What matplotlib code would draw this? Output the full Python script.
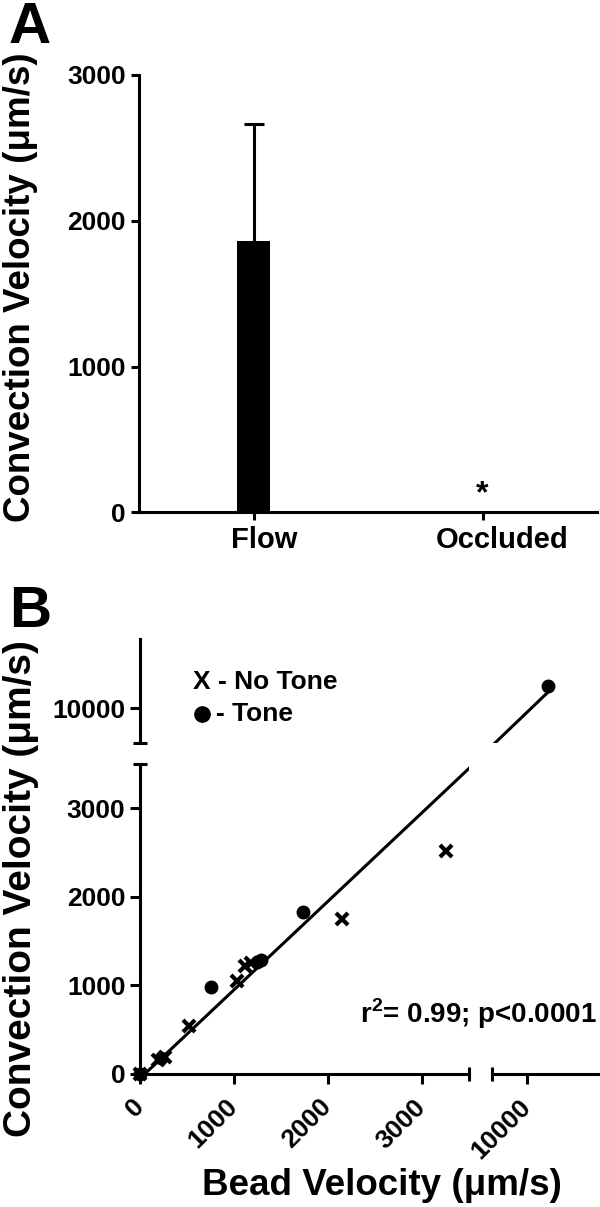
import numpy as np
import matplotlib
matplotlib.use('Agg')
import matplotlib.pyplot as plt
import matplotlib.transforms as mtransforms

plt.rcParams['font.family'] = ['Liberation Sans', 'DejaVu Sans']
plt.rcParams['font.weight'] = 'bold'
plt.rcParams['mathtext.fontset'] = 'custom'
plt.rcParams['mathtext.rm'] = 'Liberation Sans:bold'
plt.rcParams['mathtext.bf'] = 'Liberation Sans:bold'

#panel A - mean convection velocity
groups = ['Flow', 'Occluded']
means = [1860, 0]
sem = [805, 0]

#panel B - bead velocity vs convection velocity
notone_bead = [0, 190, 265, 520, 1027, 1116, 1180, 2150, 3253]
notone_conv = [0, 155, 190, 538, 1045, 1215, 1250, 1750, 2520]
tone_bead = [0, 225, 753, 1240, 1285, 1731, 10232]
tone_conv = [0, 175, 981, 1265, 1290, 1826, 10249]
fit_slope = 1.0
fit_icpt = -50
stats_text = 'r$^{2}$= 0.99; p<0.0001'

lw = 2.2
fig = plt.figure(figsize=(6, 12.07), dpi=100)

#---- A ----
axA = fig.add_axes([0.2317, 0.5754, 0.7633, 0.3625])
xpos = np.arange(len(groups))
axA.bar(xpos, means, width=0.14, color='black')
eb = axA.errorbar(xpos[:1], means[:1], yerr=[[0], [sem[0]]], fmt='none', ecolor='black',
                  elinewidth=lw, capsize=7, capthick=lw)
# only the upper cap, like graphpad
for cl in eb[1]:
    if np.allclose(cl.get_ydata(), means[0]):
        cl.set_visible(False)
axA.annotate('*', xy=(xpos[1], means[1]), xytext=(0, 2), textcoords='offset points',
             ha='center', va='bottom', fontsize=23)
axA.set_xlim(-0.5, 1.5)
axA.set_ylim(0, 3000)
axA.set_yticks([0, 1000, 2000, 3000])
axA.set_xticks(xpos)
axA.set_xticklabels(groups)
for s in ['top', 'right']:
    axA.spines[s].set_visible(False)
for s in ['left', 'bottom']:
    axA.spines[s].set_linewidth(lw)
axA.tick_params(direction='out', length=6, width=lw, labelsize=19)
axA.tick_params(axis='x', labelsize=21, pad=4)
for lbl, dx in zip(axA.get_xticklabels(), [0.11, 0.2]):
    lbl.set_transform(lbl.get_transform() + mtransforms.ScaledTranslation(dx, 0, fig.dpi_scale_trans))

#---- B (broken axes) ----
xl_left, xl_right = (0, 3500), (9625, 10780)
yl_low, yl_up = (0, 3500), (9607, 10780)
axLL = fig.add_axes([0.2333, 0.1102, 0.5483, 0.2568])
axUL = fig.add_axes([0.2333, 0.3844, 0.5483, 0.0862])
axLR = fig.add_axes([0.82, 0.1102, 0.178, 0.2568])
axUR = fig.add_axes([0.82, 0.3844, 0.178, 0.0862])
panels = [(axLL, xl_left, yl_low), (axUL, xl_left, yl_up),
          (axLR, xl_right, yl_low), (axUR, xl_right, yl_up)]

nb, nc = np.array(notone_bead), np.array(notone_conv)
tb, tc = np.array(tone_bead), np.array(tone_conv)
allx = np.concatenate([nb, tb])
fx = np.array([allx.min(), allx.max()])
fy = fit_slope * fx + fit_icpt

for ax, xl, yl in panels:
    ax.set_xlim(xl)
    ax.set_ylim(yl)
    ax.patch.set_alpha(0)
    for s in ax.spines.values():
        s.set_visible(False)
        s.set_linewidth(lw)
    ax.plot(fx, fy, color='black', lw=lw, zorder=2)
    m = (nb >= xl[0]) & (nb <= xl[1]) & (nc >= yl[0]) & (nc <= yl[1])
    ax.plot(nb[m], nc[m], 'x', color='black', ms=8, mew=3, clip_on=False, zorder=3)
    m = (tb >= xl[0]) & (tb <= xl[1]) & (tc >= yl[0]) & (tc <= yl[1])
    ax.plot(tb[m], tc[m], 'o', color='black', ms=9, clip_on=False, zorder=3)
    ax.set_xticks([])
    ax.set_yticks([])

tick_kw = dict(direction='out', length=7, width=lw, labelsize=19)
cap_kw = dict(which='minor', direction='inout', length=10, width=lw)

#lower left: both axes
axLL.spines['left'].set_visible(True)
axLL.spines['bottom'].set_visible(True)
axLL.set_yticks([0, 1000, 2000, 3000])
axLL.set_xticks([0, 1000, 2000, 3000])
axLL.set_yticks([yl_low[1]], minor=True)
axLL.set_xticks([xl_left[1]], minor=True)
axLL.tick_params(**tick_kw)
axLL.tick_params(**cap_kw)
axLL.tick_params(axis='x', pad=14)

#upper left: y only
axUL.spines['left'].set_visible(True)
axUL.set_yticks([10000])
axUL.set_yticks([yl_up[0]], minor=True)
axUL.tick_params(axis='y', **tick_kw)
axUL.tick_params(axis='y', **cap_kw)

#lower right: x only
axLR.spines['bottom'].set_visible(True)
axLR.set_xticks([10000])
axLR.set_xticks([xl_right[0]], minor=True)
axLR.tick_params(axis='x', pad=14, **tick_kw)
axLR.tick_params(axis='x', **cap_kw)

for ax in [axLL, axLR]:
    for lbl in ax.get_xticklabels():
        lbl.set_rotation(45)
        lbl.set_ha('right')
        lbl.set_va('center')
        lbl.set_rotation_mode('anchor')

#legend written as text
axUL.text(0.161, 0.587, 'X - No Tone', transform=axUL.transAxes, fontsize=19, va='center', ha='left')
axUL.plot([0.1875], [0.279], 'o', color='black', ms=11, transform=axUL.transAxes, clip_on=False)
axUL.text(0.231, 0.279, '- Tone', transform=axUL.transAxes, fontsize=19, va='center', ha='left')

fig.text(0.995, 1 - 1014 / 1207, stats_text, fontsize=20, ha='right', va='center')

#labels
fig.text(0.05, 1 - 43 / 1207, 'A', fontsize=42, ha='center', va='baseline')
fig.text(0.05, 1 - 627 / 1207, 'B', fontsize=42, ha='center', va='baseline')
fig.text(0.035, 0.762, 'Convection Velocity (μm/s)', rotation=90, fontsize=26.5, ha='center', va='center')
fig.text(0.035, 0.264, 'Convection Velocity (μm/s)', rotation=90, fontsize=28, ha='center', va='center')
fig.text(0.637, 0.018, 'Bead Velocity (μm/s)', fontsize=26.5, ha='center', va='center')

fig.savefig('out.png', dpi=100)
